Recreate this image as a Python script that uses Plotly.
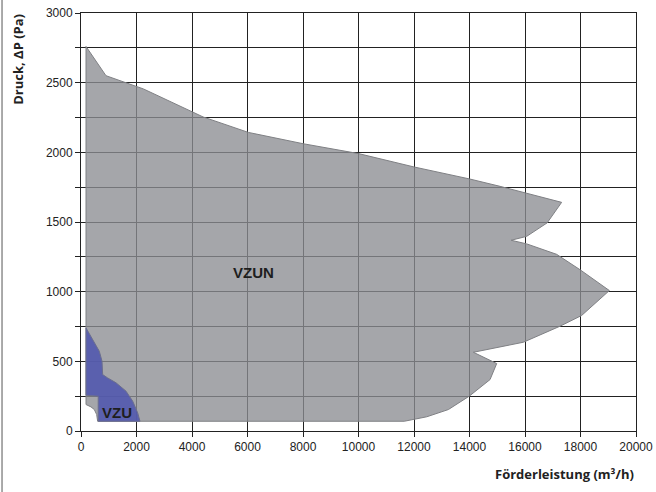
import plotly.graph_objects as go

# VZUN operating envelope (airflow m3/h, pressure Pa)
vzun_flow = [180, 900, 2250, 4400, 6030, 8000, 10000, 12000, 14000, 15100,
             17320, 16800, 16060, 15500, 16060, 17140, 17980, 19040,
             18040, 17260, 15940, 14140, 14980, 14740, 13990, 13240, 12460,
             11650, 600, 565, 480, 360, 180, 180]
vzun_pressure = [2760, 2550, 2455, 2254, 2143, 2062, 1991, 1895, 1809, 1756,
                 1641, 1494, 1397, 1369, 1343, 1268, 1158, 1008,
                 829, 752, 637, 565, 484, 369, 250, 154, 102,
                 70, 70, 118, 154, 173, 190, 2760]

# VZU operating envelope
vzu_flow = [180, 420, 660, 757, 780, 960, 1261, 1622, 1863, 2043, 2126,
            620, 620, 180, 180]
vzu_pressure = [740, 656, 572, 501, 405, 381, 346, 286, 214, 130, 70,
                70, 250, 257, 740]

x_ticks = [0, 2000, 4000, 6000, 8000, 10000, 12000, 14000, 16000, 18000, 20000]
y_ticks = [0, 500, 1000, 1500, 2000, 2500, 3000]

labels = [("VZUN", 6200, 1139), ("VZU", 1290, 130)]

fig = go.Figure()
fig.add_trace(go.Scatter(
    x=vzun_flow, y=vzun_pressure, mode="lines", fill="toself",
    fillcolor="rgba(140,141,146,0.78)",
    line=dict(color="#7f8084", width=1), showlegend=False, hoverinfo="skip"))
fig.add_trace(go.Scatter(
    x=vzu_flow, y=vzu_pressure, mode="lines", fill="toself",
    fillcolor="rgba(80,86,174,0.88)",
    line=dict(color="#6b6e8e", width=1), showlegend=False, hoverinfo="skip"))

for text, lx, ly in labels:
    fig.add_annotation(x=lx, y=ly, text=f"<b>{text}</b>", showarrow=False,
                       font=dict(family="Liberation Sans", size=15, color="#1e1e1e"))

grid = "#222222"
fig.update_xaxes(range=[0, 20000], tickvals=x_ticks, tickformat="d",
                 showgrid=True, gridcolor=grid, gridwidth=1,
                 showline=True, linecolor="#222", linewidth=1, mirror=True,
                 ticks="outside", ticklen=5, tickcolor="#222",
                 zeroline=False, automargin=False,
                 tickfont=dict(family="Liberation Sans", size=12, color="#222"))
fig.update_yaxes(range=[0, 3000], tickvals=y_ticks,
                 showgrid=True, gridcolor=grid, gridwidth=1,
                 showline=True, linecolor="#222", linewidth=1, mirror=True,
                 ticks="outside", ticklen=5, tickcolor="#222",
                 zeroline=False, automargin=False,
                 minor=dict(dtick=250, tick0=0, showgrid=True, gridcolor=grid,
                            gridwidth=1, ticks="outside", ticklen=5,
                            tickcolor="#222"),
                 tickfont=dict(family="Liberation Sans", size=12, color="#222"))

fig.add_annotation(xref="paper", yref="paper", x=-0.1135, y=0.888,
                   text="<b>Druck, ΔP (Pa)</b>", textangle=-90, showarrow=False,
                   xanchor="center", yanchor="middle",
                   font=dict(family="Open Sans", size=13, color="#222"))
fig.add_annotation(xref="paper", yref="paper", x=1.0, y=-0.104,
                   text="<b>Förderleistung (m³/h)</b>", showarrow=False,
                   xanchor="right", yanchor="middle",
                   font=dict(family="Open Sans", size=13, color="#222"))

fig.add_shape(type="line", xref="paper", yref="paper",
              x0=-0.1423, x1=-0.1423, y0=-0.2, y1=1.1,
              line=dict(color="#555", width=1))

fig.update_layout(width=656, height=492,
                  margin=dict(l=81, r=20, t=13, b=61),
                  plot_bgcolor="white", paper_bgcolor="white")

fig.write_html("out.html", config={"displayModeBar": False},
               post_script="document.body.style.margin='0';document.body.style.padding='0';")
